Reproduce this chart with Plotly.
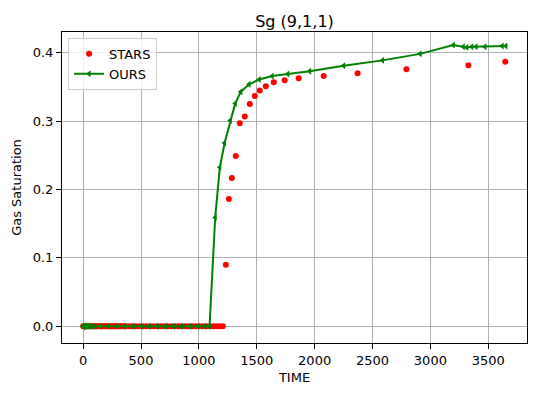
import plotly.graph_objects as go

# STARS results (red dots)
stars_time = [0, 10, 20, 31, 45, 59, 75, 90, 106, 120, 137, 151, 167, 181, 198, 212,
              228, 243, 259, 273, 289, 304, 320, 334, 350, 365, 396, 424, 455, 485,
              516, 546, 577, 608, 638, 669, 699, 730, 761, 789, 820, 850, 881, 911,
              942, 973, 1003, 1034, 1064, 1095, 1126, 1154, 1180, 1207,
              1233, 1259, 1285, 1319, 1353, 1397, 1440, 1483, 1526, 1578, 1647, 1741,
              1862, 2078, 2371, 2793, 3328, 3647]
stars_sg = [0.0] * 54 + [0.090, 0.186, 0.217, 0.249, 0.297, 0.307, 0.325, 0.337, 0.345,
                         0.351, 0.357, 0.360, 0.363, 0.366, 0.370, 0.376, 0.382, 0.387]

# OURS results (green line with markers)
ours_time = [0, 1, 2, 4, 8, 15, 25, 40, 60, 80, 100, 150, 220, 290, 360, 430, 500,
             570, 640, 710, 780, 850, 920, 990, 1050, 1092,
             1141, 1181, 1222, 1271, 1314, 1362, 1434, 1521, 1633, 1767, 1957, 2250,
             2586, 2911, 3198, 3284, 3314, 3357, 3394, 3471, 3620, 3652]
ours_sg = [0.0] * 26 + [0.159, 0.2325, 0.268, 0.301, 0.326, 0.343, 0.354, 0.361, 0.366,
                        0.369, 0.373, 0.381, 0.389, 0.3985, 0.4115, 0.409, 0.408, 0.409,
                        0.409, 0.409, 0.410, 0.410]

x_ticks = [0, 500, 1000, 1500, 2000, 2500, 3000, 3500]
y_ticks = [0.0, 0.1, 0.2, 0.3, 0.4]

font = "DejaVu Sans"

fig = go.Figure()
fig.add_trace(go.Scatter(
    x=stars_time, y=stars_sg, mode="markers", name="STARS",
    marker=dict(color="red", size=6, line=dict(width=0)),
))
fig.add_trace(go.Scatter(
    x=ours_time, y=ours_sg, mode="lines+markers", name="OURS",
    line=dict(color="green", width=2),
    marker=dict(symbol="triangle-left", size=6, color="green", line=dict(width=0)),
))

axis_common = dict(
    showline=True, linecolor="black", linewidth=1, mirror=True,
    ticks="outside", ticklen=5, tickwidth=1, tickcolor="black",
    showgrid=True, gridcolor="#b0b0b0", gridwidth=1, zeroline=False,
    automargin=False,
    tickfont=dict(family=font, size=13, color="black"),
)

# the page body has an 8px margin, so the figure is drawn 8px smaller
W, H = 528, 385
fig.update_layout(
    width=W, height=H,
    margin=dict(l=54, r=9, t=24, b=50),
    paper_bgcolor="white", plot_bgcolor="white",
    font=dict(family=font, color="black"),
    title=dict(text="Sg (9,1,1)", x=0.5, xref="paper", xanchor="center",
               y=1 - 13 / H, yanchor="middle",
               font=dict(family=font, size=16, color="black")),
    xaxis=dict(range=[-182.6, 3834.6], tickvals=x_ticks,
               title=dict(text="TIME", font=dict(family=font, size=13), standoff=6),
               **axis_common),
    yaxis=dict(range=[-0.0245, 0.4305], tickvals=y_ticks, tickformat=".1f",
               title=dict(text="Gas Saturation", font=dict(family=font, size=13), standoff=8),
               **axis_common),
    legend=dict(x=0.013, y=0.981, xanchor="left", yanchor="top",
                bgcolor="rgba(255,255,255,0.8)", bordercolor="#cccccc", borderwidth=1,
                font=dict(family=font, size=13, color="black"),
                tracegroupgap=2),
    showlegend=True,
)

fig.write_html("out.html")
